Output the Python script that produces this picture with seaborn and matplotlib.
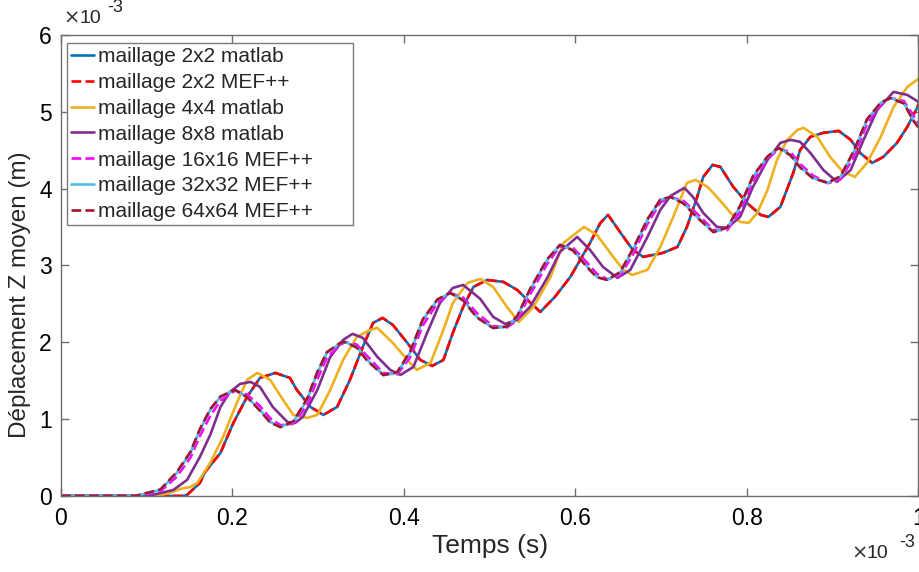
import numpy as np
import pandas as pd
import matplotlib
matplotlib.use('Agg')
import matplotlib.pyplot as plt
import seaborn as sns
from matplotlib.ticker import FuncFormatter, MultipleLocator

# time in ms (x 1e-3 s), displacement in mm (x 1e-3 m)
t_2x2 = [0, 0.142, 0.147, 0.162, 0.168, 0.186, 0.201, 0.217, 0.232, 0.250, 0.267, 0.275,
         0.291, 0.306, 0.322, 0.337, 0.352, 0.364, 0.375, 0.387, 0.404, 0.419, 0.433, 0.446,
         0.457, 0.469, 0.481, 0.497, 0.516, 0.532, 0.544, 0.559, 0.576, 0.594, 0.617, 0.629,
         0.638, 0.656, 0.667, 0.679, 0.702, 0.719, 0.730, 0.742, 0.749, 0.760, 0.769, 0.784,
         0.800, 0.816, 0.825, 0.839, 0.854, 0.862, 0.874, 0.889, 0.907, 0.921, 0.932, 0.946,
         0.959, 0.975, 0.987, 0.999, 1.0]
z_2x2 = [0, 0, 0.013, 0.169, 0.312, 0.560, 0.950, 1.289, 1.536, 1.601, 1.536, 1.380,
         1.158, 1.054, 1.158, 1.510, 1.939, 2.252, 2.317, 2.226, 1.991, 1.770, 1.692, 1.770,
         2.122, 2.460, 2.720, 2.811, 2.785, 2.681, 2.551, 2.395, 2.590, 2.850, 3.293, 3.553,
         3.657, 3.371, 3.202, 3.111, 3.163, 3.241, 3.501, 3.892, 4.152, 4.308, 4.282, 4.022,
         3.814, 3.657, 3.631, 3.762, 4.204, 4.503, 4.673, 4.725, 4.751, 4.634, 4.464, 4.334,
         4.412, 4.595, 4.803, 5.063, 5.10]

t_4x4 = [0, 0.112, 0.127, 0.139, 0.151, 0.159, 0.174, 0.189, 0.205, 0.217, 0.229, 0.244,
         0.259, 0.271, 0.287, 0.299, 0.314, 0.329, 0.345, 0.361, 0.369, 0.387, 0.404, 0.415,
         0.431, 0.446, 0.457, 0.474, 0.489, 0.504, 0.520, 0.534, 0.551, 0.571, 0.586, 0.610,
         0.625, 0.644, 0.656, 0.666, 0.684, 0.699, 0.714, 0.730, 0.740, 0.754, 0.765, 0.781,
         0.792, 0.802, 0.812, 0.824, 0.835, 0.847, 0.859, 0.866, 0.882, 0.897, 0.912, 0.926,
         0.940, 0.956, 0.971, 0.987, 1.0]
z_4x4 = [0, 0, 0.039, 0.091, 0.117, 0.169, 0.430, 0.768, 1.210, 1.510, 1.601, 1.510,
         1.250, 1.054, 1.015, 1.054, 1.380, 1.770, 2.070, 2.161, 2.187, 1.991, 1.770, 1.640,
         1.731, 2.161, 2.512, 2.772, 2.824, 2.720, 2.460, 2.265, 2.460, 2.850, 3.293, 3.501,
         3.397, 3.111, 2.942, 2.876, 2.942, 3.241, 3.631, 4.074, 4.113, 4.022, 3.892, 3.683,
         3.566, 3.553, 3.683, 3.983, 4.373, 4.634, 4.764, 4.790, 4.673, 4.412, 4.217, 4.152,
         4.334, 4.673, 5.063, 5.323, 5.428]

t_8x8 = [0, 0.104, 0.107, 0.131, 0.147, 0.162, 0.174, 0.186, 0.197, 0.209, 0.221, 0.232,
         0.247, 0.264, 0.273, 0.282, 0.299, 0.314, 0.329, 0.340, 0.352, 0.369, 0.384, 0.396,
         0.411, 0.427, 0.442, 0.457, 0.469, 0.489, 0.504, 0.518, 0.532, 0.547, 0.567, 0.582,
         0.602, 0.617, 0.632, 0.649, 0.664, 0.684, 0.699, 0.711, 0.727, 0.737, 0.749, 0.765,
         0.777, 0.792, 0.807, 0.824, 0.839, 0.851, 0.862, 0.874, 0.889, 0.905, 0.921, 0.936,
         0.952, 0.971, 0.987, 1.0]
z_8x8 = [0, 0, 0.013, 0.078, 0.208, 0.508, 0.794, 1.158, 1.354, 1.458, 1.484, 1.419,
         1.158, 0.963, 0.950, 1.028, 1.380, 1.809, 2.030, 2.109, 2.057, 1.809, 1.640, 1.575,
         1.679, 2.122, 2.512, 2.707, 2.746, 2.564, 2.330, 2.239, 2.291, 2.460, 2.837, 3.176,
         3.371, 3.202, 2.981, 2.837, 2.942, 3.371, 3.723, 3.905, 4.009, 3.892, 3.683, 3.501,
         3.488, 3.631, 4.022, 4.373, 4.595, 4.634, 4.608, 4.464, 4.243, 4.087, 4.243, 4.634,
         5.024, 5.258, 5.219, 5.128]

t_fine = [0, 0.086, 0.092, 0.116, 0.135, 0.151, 0.162, 0.174, 0.186, 0.203, 0.217, 0.232,
          0.244, 0.256, 0.271, 0.287, 0.299, 0.310, 0.326, 0.331, 0.345, 0.357, 0.376, 0.392,
          0.407, 0.422, 0.439, 0.454, 0.469, 0.485, 0.504, 0.520, 0.532, 0.547, 0.567, 0.582,
          0.597, 0.614, 0.625, 0.637, 0.652, 0.667, 0.684, 0.699, 0.711, 0.726, 0.742, 0.761,
          0.777, 0.792, 0.807, 0.824, 0.837, 0.851, 0.862, 0.877, 0.894, 0.909, 0.924, 0.940,
          0.956, 0.967, 0.983, 0.994, 1.0]
z_16x16 = [0, 0, 0.005, 0.060, 0.250, 0.500, 0.780, 1.040, 1.240, 1.370, 1.320, 1.170,
           1.010, 0.920, 0.940, 1.180, 1.520, 1.800, 1.970, 2.000, 1.970, 1.820, 1.600, 1.580,
           1.800, 2.220, 2.510, 2.640, 2.580, 2.380, 2.210, 2.190, 2.290, 2.620, 3.020, 3.250,
           3.230, 3.030, 2.890, 2.820, 2.870, 3.140, 3.540, 3.820, 3.890, 3.840, 3.670, 3.460,
           3.460, 3.700, 4.100, 4.380, 4.520, 4.470, 4.320, 4.170, 4.070, 4.120, 4.400, 4.840,
           5.090, 5.180, 5.140, 4.950, 4.860]
z_32x32 = [0, 0, 0.013, 0.078, 0.299, 0.560, 0.859, 1.119, 1.289, 1.380, 1.289, 1.119,
           0.963, 0.898, 0.963, 1.250, 1.601, 1.861, 1.991, 2.004, 1.939, 1.770, 1.575, 1.601,
           1.861, 2.291, 2.551, 2.642, 2.551, 2.330, 2.187, 2.200, 2.330, 2.681, 3.072, 3.267,
           3.202, 2.981, 2.850, 2.811, 2.902, 3.202, 3.592, 3.853, 3.892, 3.814, 3.631, 3.436,
           3.488, 3.762, 4.152, 4.412, 4.530, 4.438, 4.282, 4.139, 4.074, 4.152, 4.464, 4.894,
           5.115, 5.180, 5.115, 4.894, 4.803]
z_64x64 = [0, 0, 0.015, 0.085, 0.310, 0.575, 0.870, 1.130, 1.295, 1.380, 1.285, 1.110,
           0.955, 0.895, 0.970, 1.265, 1.615, 1.870, 1.995, 2.004, 1.930, 1.760, 1.572, 1.610,
           1.875, 2.300, 2.558, 2.642, 2.545, 2.322, 2.185, 2.205, 2.340, 2.692, 3.080, 3.268,
           3.195, 2.972, 2.845, 2.813, 2.912, 3.215, 3.602, 3.858, 3.890, 3.806, 3.622, 3.432,
           3.495, 3.775, 4.162, 4.418, 4.530, 4.430, 4.274, 4.134, 4.076, 4.160, 4.476, 4.902,
           5.118, 5.178, 5.108, 4.884, 4.795]

series = [
    ('maillage 2x2 matlab', t_2x2, z_2x2, '#0072BD', '-'),
    ('maillage 2x2 MEF++', t_2x2, z_2x2, '#FF0000', '--'),
    ('maillage 4x4 matlab', t_4x4, z_4x4, '#EDB120', '-'),
    ('maillage 8x8 matlab', t_8x8, z_8x8, '#7E2F8E', '-'),
    ('maillage 16x16 MEF++', t_fine, z_16x16, '#FF00FF', '--'),
    ('maillage 32x32 MEF++', t_fine, z_32x32, '#4DBEEE', '-'),
    ('maillage 64x64 MEF++', t_fine, z_64x64, '#A2142F', '--'),
]

sns.set_theme(style='white')
plt.rcParams['font.family'] = ['Liberation Sans', 'DejaVu Sans']

fig = plt.figure(figsize=(9.2, 5.72), dpi=100)
ax = fig.add_axes([0.0663, 0.133, 0.932, 0.806])

for name, t, z, color, ls in series:
    df = pd.DataFrame({'t': t, 'z': z})
    line_kw = dict(dashes=(5, 2.6)) if ls == '--' else {}
    sns.lineplot(data=df, x='t', y='z', ax=ax, color=color, linewidth=1.9,
                 linestyle=ls, label=name, sort=False, estimator=None, **line_kw)

ax.set_xlim(0, 1)
ax.set_ylim(0, 6)
ax.xaxis.set_major_locator(MultipleLocator(0.2))
ax.yaxis.set_major_locator(MultipleLocator(1))
ax.xaxis.set_major_formatter(FuncFormatter(lambda v, p: f'{v:g}'))
ax.yaxis.set_major_formatter(FuncFormatter(lambda v, p: f'{v:g}'))

axis_grey = '#6e6e6e'
for side in ['left', 'right', 'top', 'bottom']:
    ax.spines[side].set_visible(True)
    ax.spines[side].set_color(axis_grey)
    ax.spines[side].set_linewidth(1.0)
ax.tick_params(direction='in', length=6, width=1.0, colors=axis_grey,
               labelcolor='black', labelsize=16.5, top=True, right=True,
               left=True, bottom=True)
ax.tick_params(axis='x', pad=8)
ax.tick_params(axis='y', pad=6.5)

ax.set_xlabel('Temps (s)', fontsize=19, labelpad=3)
ax.set_ylabel('Déplacement Z moyen (m)', fontsize=17.5)
ax.yaxis.set_label_coords(-0.035, 0.436)

# MATLAB style exponent labels
sym_font = ['DejaVu Sans']
fig.text(0.069, 0.952, '×', fontsize=14, family=sym_font, color='#333333',
         ha='left', va='bottom')
fig.text(0.086, 0.952, '10', fontsize=14, ha='left', va='bottom')
fig.text(0.117, 0.972, '-3', fontsize=13, ha='left', va='bottom')
fig.text(0.925, 0.017, '×', fontsize=14, family=sym_font, color='#333333',
         ha='left', va='bottom')
fig.text(0.942, 0.017, '10', fontsize=14, ha='left', va='bottom')
fig.text(0.977, 0.037, '-3', fontsize=13, ha='left', va='bottom')

leg = ax.legend(loc='upper left', bbox_to_anchor=(0.007, 0.5, 0.334, 0.4826),
                mode='expand', borderaxespad=0,
                handlelength=1.1, handletextpad=0.2, labelspacing=0.33,
                borderpad=0.2, frameon=True, fancybox=False,
                framealpha=1, edgecolor='#7a7a7a',
                prop={'family': ['Liberation Sans', 'DejaVu Sans'], 'size': 15})
leg.get_frame().set_linewidth(1.0)

fig.savefig('out.png', dpi=100)
plt.close(fig)
